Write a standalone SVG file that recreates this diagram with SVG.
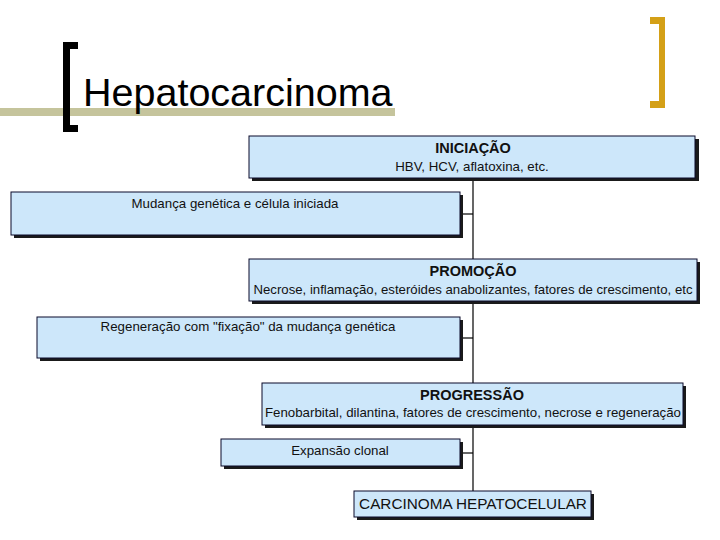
<svg xmlns="http://www.w3.org/2000/svg" width="720" height="540" viewBox="0 0 720 540">
<defs>
<style>
.box{fill:#cde7fa;stroke:#0a0a2a;stroke-width:1}
.sh{fill:#1a1a1a}
.t{font-family:"Liberation Sans",Arial,sans-serif;fill:#111;text-anchor:middle}
.h{font-size:14.5px;font-weight:bold}
.s{font-size:13.3px}
.ln{stroke:#000;stroke-width:1.2;fill:none}
</style>
</defs>
<rect width="720" height="540" fill="#fff"/>
<g id="title">
<rect x="0" y="108" width="395" height="8" fill="#c5c49c"/>
<path d="M63,42 H78 V49 H70 V125 H78 V132 H63 Z" fill="#000"/>
<path d="M650,17 H665 V108 H650 V101 H659 V24 H650 Z" fill="#d4a017"/>
<text x="83" y="106" font-family="'Liberation Sans',Arial,sans-serif" font-size="39.5" fill="#000">Hepatocarcinoma</text>
</g>
<g id="connectors">
<path class="ln" d="M473,178 V491"/>
<path class="ln" d="M461,214 H473"/>
<path class="ln" d="M461,338 H473"/>
<path class="ln" d="M461,453 H473"/>
</g>
<g id="iniciacao">
<rect class="sh" x="252" y="139" width="447" height="42"/>
<rect class="box" x="249" y="136" width="446" height="42"/>
<text class="t h" x="473" y="153">INICIAÇÃO</text>
<text class="t s" x="472" y="171">HBV, HCV, aflatoxina, etc.</text>
</g>
<g id="mudanca">
<rect class="sh" x="14" y="195" width="449" height="43"/>
<rect class="box" x="11" y="192" width="449" height="43"/>
<text class="t s" x="235" y="208">Mudança genética e célula iniciada</text>
</g>
<g id="promocao">
<rect class="sh" x="252" y="262" width="448" height="42"/>
<rect class="box" x="249" y="259" width="448" height="42"/>
<text class="t h" x="473" y="276">PROMOÇÃO</text>
<text class="t s" x="473" y="294" textLength="439" lengthAdjust="spacingAndGlyphs">Necrose, inflamação, esteróides anabolizantes, fatores de crescimento, etc</text>
</g>
<g id="regeneracao">
<rect class="sh" x="40" y="320" width="423" height="41"/>
<rect class="box" x="37" y="317" width="423" height="41"/>
<text class="t s" x="248" y="331">Regeneração com "fixação" da mudança genética</text>
</g>
<g id="progressao">
<rect class="sh" x="265" y="386" width="421" height="42"/>
<rect class="box" x="262" y="383" width="421" height="42"/>
<text class="t h" x="472" y="400">PROGRESSÃO</text>
<text class="t s" x="473" y="417" textLength="416" lengthAdjust="spacingAndGlyphs">Fenobarbital, dilantina, fatores de crescimento, necrose e regeneração</text>
</g>
<g id="expansao">
<rect class="sh" x="224" y="442" width="239" height="27"/>
<rect class="box" x="221" y="439" width="239" height="27"/>
<text class="t s" x="340" y="455">Expansão clonal</text>
</g>
<g id="carcinoma">
<rect class="sh" x="357" y="494" width="237" height="26"/>
<rect class="box" x="354" y="491" width="237" height="26"/>
<text class="t" x="473" y="509" font-size="15.3">CARCINOMA HEPATOCELULAR</text>
</g>
</svg>
